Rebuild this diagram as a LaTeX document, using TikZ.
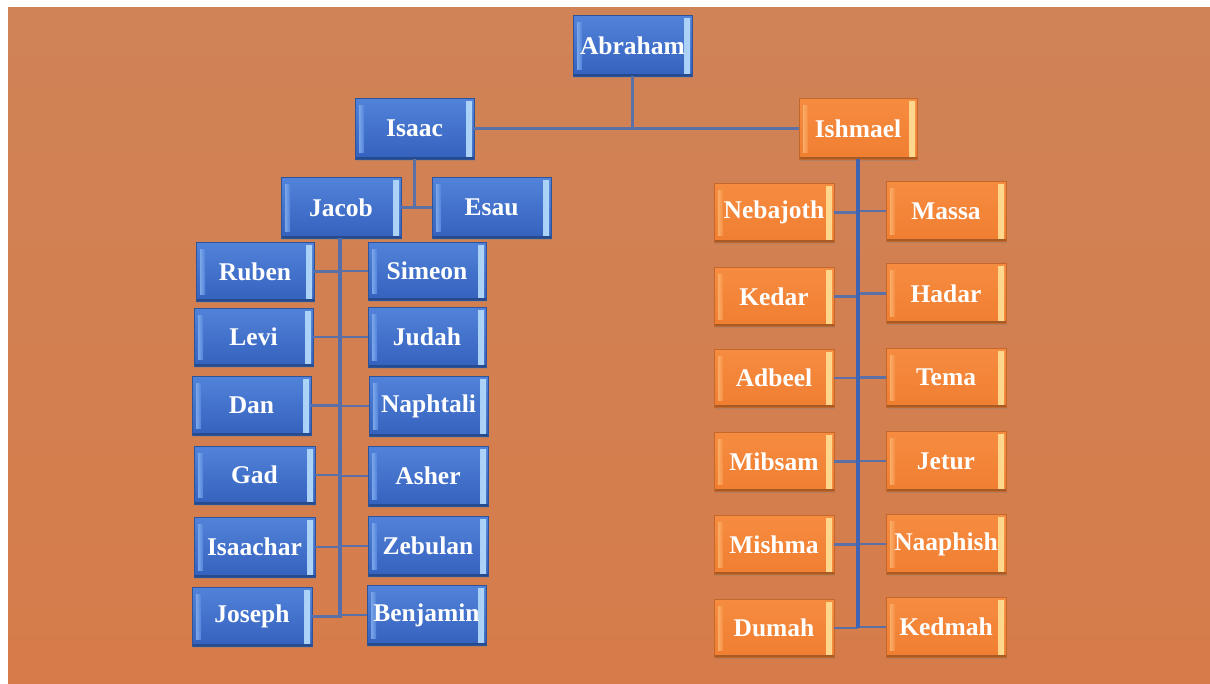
\documentclass[tikz,border=0pt]{standalone}
\usepackage{fontspec}
\setmainfont{Liberation Serif}
\usetikzlibrary{calc,shadows}
\definecolor{bgtop}{HTML}{CF8357}
\definecolor{bgbot}{HTML}{D67C4A}
\definecolor{bluetop}{HTML}{5283DA}
\definecolor{bluebot}{HTML}{3461BD}
\definecolor{blueborder}{HTML}{2D5399}
\definecolor{bluehi}{HTML}{B0D6F8}
\definecolor{bluelo}{HTML}{7BA6E8}
\definecolor{bluesh}{HTML}{264A8C}
\definecolor{orangetop}{HTML}{F68C40}
\definecolor{orangebot}{HTML}{F07E31}
\definecolor{orangeborder}{HTML}{C4672A}
\definecolor{orangehi}{HTML}{FFDB90}
\definecolor{orangelo}{HTML}{FAAE68}
\definecolor{orangesh}{HTML}{A85A25}
\definecolor{connc}{HTML}{5B70A6}
\definecolor{trunkc}{HTML}{3F64B4}
\begin{document}
\begin{tikzpicture}[x=1pt,y=-1pt,
  pbox/.style={draw=#1border, line width=0.8pt, inner sep=0pt,
    minimum width=120pt, minimum height=60pt, text=white,
    font=\bfseries\fontsize{25.5}{26}\selectfont,
    top color=#1top, bottom color=#1bot,
    drop shadow={shadow xshift=0.8pt, shadow yshift=-1.5pt, opacity=0.35},
    path picture={
      \shade[left color=#1top, right color=#1hi] ($(path picture bounding box.north east)+(-8pt,-3pt)$) rectangle ($(path picture bounding box.south east)+(-2pt,3pt)$);
      \shade[left color=#1lo, right color=#1top] ($(path picture bounding box.north west)+(4pt,-7pt)$) rectangle ($(path picture bounding box.south west)+(9pt,7pt)$);
      \fill[#1sh] ($(path picture bounding box.south west)$) rectangle ($(path picture bounding box.south east)+(0pt,2.5pt)$);
    }},
  bbox/.style={pbox=blue},
  obox/.style={pbox=orange},
  conn/.style={draw=connc, line width=2.2pt},
  jtrunk/.style={draw=connc!80!trunkc, line width=3.2pt},
  itrunk/.style={draw=trunkc, line width=4pt}
]
\useasboundingbox (0,0) rectangle (1210,683);
\fill[white] (0,0) rectangle (1210,683);
\shade[top color=bgtop, bottom color=bgbot] (8,7) rectangle (1210,683);

% nodes
\node[bbox, minimum width=119pt, minimum height=61pt] (abraham) at (632.5,45.5) {Abraham};
\node[bbox, minimum width=119pt, minimum height=61pt] (isaac) at (414.5,128.5) {Isaac};
\node[obox, minimum width=118pt, minimum height=61pt] (ishmael) at (858,128.5) {Ishmael};
\node[bbox, minimum height=61pt] (jacob) at (341,207.5) {Jacob};
\node[bbox, minimum width=119pt, minimum height=61pt] (esau) at (491.5,207.5) {Esau};

\node[bbox, minimum width=118pt, minimum height=59pt] (ruben) at (255,271.5) {Ruben};
\node[bbox, minimum width=119pt, minimum height=58pt] (levi) at (253.5,337) {Levi};
\node[bbox, minimum width=119pt, minimum height=59pt] (dan) at (251.5,405.5) {Dan};
\node[bbox, minimum width=121pt, minimum height=58pt] (gad) at (254.5,475) {Gad};
\node[bbox, minimum width=121pt, minimum height=60pt] (isaachar) at (254.5,547) {Isaachar};
\node[bbox, minimum width=120pt, minimum height=59pt] (joseph) at (252,616.5) {Joseph};

\node[bbox, minimum width=118pt, minimum height=58pt] (simeon) at (427,271) {Simeon};
\node[bbox, minimum width=118pt, minimum height=60pt] (judah) at (427,337) {Judah};
\node[bbox, minimum width=119pt, minimum height=60pt] (naphtali) at (428.5,406) {Naphtali};
\node[bbox, minimum width=120pt, minimum height=60pt] (asher) at (428,476) {Asher};
\node[bbox, minimum width=120pt, minimum height=60pt] (zebulan) at (428,546) {Zebulan};
\node[bbox, minimum width=119pt, minimum height=60pt] (benjamin) at (426.5,615) {Benjamin};

\node[obox, minimum height=59pt] (nebajoth) at (774,212.5) {Nebajoth};
\node[obox, minimum height=59pt] (kedar) at (774,296.5) {Kedar};
\node[obox, minimum height=58pt] (adbeel) at (774,378) {Adbeel};
\node[obox, minimum height=59pt] (mibsam) at (774,461.5) {Mibsam};
\node[obox, minimum height=59pt] (mishma) at (774,544.5) {Mishma};
\node[obox, minimum height=58pt] (dumah) at (774,628) {Dumah};

\node[obox] (massa) at (946,211) {Massa};
\node[obox] (hadar) at (946,293.5) {Hadar};
\node[obox, minimum height=59pt] (tema) at (946,377.5) {Tema};
\node[obox] (jetur) at (946,461) {Jetur};
\node[obox] (naaphish) at (946,544) {Naaphish};
\node[obox] (kedmah) at (946,627) {Kedmah};

\coordinate (jbot) at (340,617.5);
\coordinate (ibot) at (858,628);

% connectors
\draw[conn] (abraham.south) -- (abraham.south |- isaac.east);
\draw[conn] (isaac.east) -- (ishmael.west);
\draw[conn] (isaac.south) -- (isaac.south |- jacob.east);
\draw[conn] (jacob.east) -- (esau.west);

\draw[jtrunk] (jacob.south -| jbot) -- (jbot);
\foreach \n in {ruben,levi,dan,gad,isaachar,joseph}{
  \draw[conn] (\n.east) -- (\n.east -| jbot);
}
\foreach \n in {simeon,judah,naphtali,asher,zebulan,benjamin}{
  \draw[conn] (\n.west) -- (\n.west -| jbot);
}

\foreach \n in {nebajoth,kedar,adbeel,mibsam,mishma,dumah}{
  \draw[conn] (\n.east) -- (\n.east -| ibot);
}
\foreach \n in {massa,hadar,tema,jetur,naaphish,kedmah}{
  \draw[conn] (\n.west) -- (\n.west -| ibot);
}
\draw[itrunk] (ishmael.south) -- (ibot);
\end{tikzpicture}
\end{document}
